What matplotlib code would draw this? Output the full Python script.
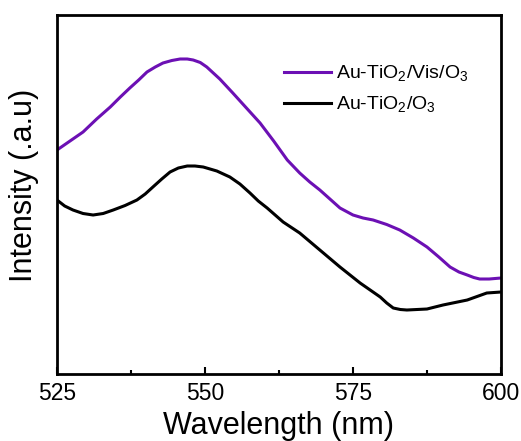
import matplotlib
matplotlib.use("Agg")
import matplotlib.pyplot as plt
from matplotlib.ticker import MultipleLocator

plt.rcParams['font.family'] = ['Liberation Sans', 'DejaVu Sans']
plt.rcParams['mathtext.fontset'] = 'custom'
plt.rcParams['mathtext.rm'] = 'Liberation Sans'

# Au-TiO2/Vis/O3 (purple)
wl_vis = [525.0, 527.2, 529.4, 531.7, 534.0, 535.7, 537.3, 538.8, 540.2, 541.6,
          542.9, 544.4, 545.8, 547.0, 548.0, 549.2, 550.3, 552.5, 554.7, 557.0,
          559.3, 561.6, 563.9, 566.0, 567.7, 569.4, 571.1, 572.8, 575.0, 576.7,
          578.4, 580.7, 582.9, 585.2, 587.5, 589.5, 591.4, 592.9, 594.3, 595.4,
          596.4, 598.0, 600.0]
int_vis = [224, 233, 242, 255, 267, 277, 286, 294, 302, 307,
           311, 313.5, 315, 315, 314, 311.5, 307, 295, 281, 266,
           251, 233, 214, 201, 192, 184, 175, 166, 159, 156,
           154, 149.5, 144, 136, 127, 117, 107, 102, 99, 96.5,
           95, 95, 96]

# Au-TiO2/O3 (black)
wl_dark = [525.0, 526.3, 527.7, 529.4, 531.1, 532.8, 534.5, 536.5, 538.5, 539.9,
           541.2, 542.7, 544.1, 545.5, 547.0, 548.3, 549.7, 552.0, 554.2, 555.9,
           557.6, 559.0, 560.5, 563.2, 566.0, 569.4, 572.8, 576.2, 579.6, 580.7,
           581.8, 583.0, 584.1, 587.5, 590.2, 594.3, 597.6, 600.0]
int_dark = [174, 168, 164, 160.5, 159, 160.5, 164, 168.5, 174, 180,
            187, 195, 202, 206, 208, 208, 207, 203, 197, 190,
            181, 173, 166, 152, 141, 124, 107, 91, 77, 71,
            66, 64.5, 64, 65, 69, 74, 81, 82]

labels = [r'Au-TiO$_2$/Vis/O$_3$', r'Au-TiO$_2$/O$_3$']
xticks = [525, 550, 575, 600]

fig = plt.figure(figsize=(5.21, 4.41), dpi=100)
ax = fig.add_axes([0.1094, 0.1519, 0.8522, 0.8141])

ax.plot(wl_vis, int_vis, color='#6c10b4', lw=2.2, label=labels[0])
ax.plot(wl_dark, int_dark, color='black', lw=2.2, label=labels[1])

ax.set_xlim(525, 600)
ax.set_ylim(0, 359)
ax.set_xticks(xticks)
ax.xaxis.set_minor_locator(MultipleLocator(12.5))
ax.set_yticks([])
ax.tick_params(axis='x', which='major', direction='in', length=5, width=1.5,
               labelsize=16.5, pad=6, top=False)
ax.tick_params(axis='x', which='minor', direction='in', length=3, width=1.5, top=False)
for s in ax.spines.values():
    s.set_linewidth(2.0)

ax.set_xlabel('Wavelength (nm)', fontsize=22, labelpad=4)
ax.set_ylabel('Intensity (.a.u)', fontsize=22)
ax.yaxis.set_label_coords(-0.040, 0.526)

leg = ax.legend(loc='upper left', bbox_to_anchor=(0.511, 0.865), frameon=False,
                fontsize=14, handlelength=2.4, handletextpad=0.3, labelspacing=0.55,
                borderaxespad=0.0, borderpad=0.0)

fig.savefig('out.png', dpi=100)
